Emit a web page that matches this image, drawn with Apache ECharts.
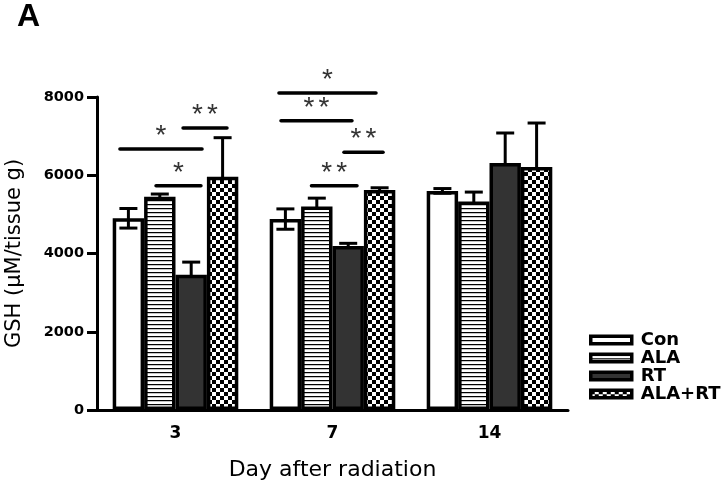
<!DOCTYPE html>
<html><head><meta charset="utf-8">
<script src="https://cdn.jsdelivr.net/npm/echarts@6/dist/echarts.min.js"></script>
<style>html,body{margin:0;padding:0;background:#fff}#c{width:722px;height:483px}</style>
</head><body><div id="c"></div>
<script>
// ---- data ----
const categories = ['3', '7', '14'];
const seriesNames = ['Con', 'ALA', 'RT', 'ALA+RT'];
const conVals = [4900, 4880, 5600];
const conErr = [250, 260, 60];
const alaVals = [5450, 5200, 5330];
const alaErr = [70, 215, 240];
const rtVals = [3460, 4190, 6310];
const rtErr = [320, 70, 770];
const alartVals = [5960, 5620, 6210];
const alartErr = [1000, 60, 1125];
const yTicks = [0, 2000, 4000, 6000, 8000];
// significance brackets: [x start, x end] in category units, y level, label
const sigX1 = [-0.354, 0.048, -0.124, 0.659, 0.672, 1.073, 0.866];
const sigX2 = [0.169, 0.328, 0.162, 1.277, 1.124, 1.322, 1.156];
const sigY = [6670, 7210, 5730, 8100, 7390, 6590, 5730];
const sigLabels = ['*', '**', '*', '*', '**', '**', '**'];

// ---- patterns ----
function stripePattern() {
  const c = document.createElement('canvas'); c.width = 4; c.height = 4;
  const g = c.getContext('2d');
  g.fillStyle = '#fff'; g.fillRect(0, 0, 4, 4);
  g.fillStyle = '#000'; g.fillRect(0, 0, 4, 1);
  g.fillStyle = '#888'; g.fillRect(0, 1, 4, 0.5);
  return { image: c, repeat: 'repeat' };
}
function checkerPattern() {
  const c = document.createElement('canvas'); c.width = 8; c.height = 8;
  const g = c.getContext('2d');
  g.fillStyle = '#fff'; g.fillRect(0, 0, 8, 8);
  g.fillStyle = '#000'; g.fillRect(0, 0, 4, 4); g.fillRect(4, 4, 4, 4);
  return { image: c, repeat: 'repeat' };
}
const fills = ['rgba(255,255,255,0)', stripePattern(), '#333333', checkerPattern()];
const valsList = [conVals, alaVals, rtVals, alartVals];
const errList = [conErr, alaErr, rtErr, alartErr];

const errData = [];
valsList.forEach((vals, s) => vals.forEach((v, i) => errData.push([i, v, errList[s][i], s])));
const sigData = sigY.map((y, i) => [sigX1[i], sigX2[i], y]);

const chart = echarts.init(document.getElementById('c'), null, { renderer: 'canvas' });
const FONT = 'DejaVu Sans';

const barSeries = seriesNames.map((name, s) => ({
  name: name, type: 'bar', data: valsList[s],
  xAxisIndex: 0, yAxisIndex: 0,
  barGap: '0%', barCategoryGap: '20%',
  itemStyle: { color: fills[s], borderColor: '#000', borderWidth: 3.5 },
  z: 2, silent: true
}));

const option = {
  animation: false,
  backgroundColor: '#fff',
  title: { text: 'A', left: 17, top: 1, padding: 0,
    textStyle: { fontFamily: 'Liberation Sans', fontWeight: 'bold', fontSize: 32, color: '#000' } },
  legend: {
    orient: 'vertical', left: 589, top: 331, padding: 0, itemGap: 0,
    itemWidth: 41, itemHeight: 7.5, icon: 'rect',
    itemStyle: { borderWidth: 3.5, borderColor: '#000' },
    textStyle: { fontFamily: FONT, fontWeight: 'bold', fontSize: 18, color: '#000', lineHeight: 17.7, padding: [0, 0, 0, 4] },
    data: seriesNames
  },
  grid: { left: 97, right: 154, top: 97, bottom: 73, containLabel: false, outerBoundsMode: 'none' },
  xAxis: [{
    type: 'category', data: categories,
    name: 'Day after radiation', nameLocation: 'middle', nameGap: 49,
    nameTextStyle: { fontFamily: FONT, fontSize: 22, color: '#000' },
    axisLine: { onZero: false, lineStyle: { color: '#000', width: 3 } },
    axisTick: { alignWithLabel: true, length: 8, lineStyle: { color: '#000', width: 3 } },
    axisLabel: { fontFamily: FONT, fontWeight: 'bold', fontSize: 17, color: '#000', margin: 15 },
    splitLine: { show: false }
  }, {
    type: 'value', min: -0.5, max: 2.5, show: false,
    axisLine: { onZero: false }
  }],
  yAxis: {
    type: 'value', min: yTicks[0], max: yTicks[yTicks.length - 1], interval: yTicks[1] - yTicks[0],
    name: 'GSH (μM/tissue g)', nameLocation: 'middle', nameGap: 72, nameRotate: 90,
    nameTextStyle: { fontFamily: FONT, fontSize: 21, color: '#000' },
    axisLine: { show: true, onZero: false, lineStyle: { color: '#000', width: 3 } },
    axisTick: { show: true, length: 10, lineStyle: { color: '#000', width: 3 } },
    axisLabel: { fontFamily: FONT, fontWeight: 'bold', fontSize: 14.5, color: '#000', margin: 13,
      formatter: function (v) { return String(v); } },
    splitLine: { show: false }
  },
  series: barSeries.concat([{
    type: 'custom', name: 'err', xAxisIndex: 0, yAxisIndex: 0, z: 1, silent: true, clip: false,
    data: errData, encode: { x: 0, y: 1 },
    renderItem: function (params, api) {
      const cat = api.value(0), v = api.value(1), e = api.value(2), s = api.value(3);
      const base = api.coord([cat, v]);
      const band = api.size([1, 0])[0];
      const bw = band * 0.8 / 4;
      const x = base[0] + (s - 1.5) * bw;
      const top = api.coord([cat, v + e])[1];
      const bot = api.coord([cat, v - e])[1];
      const cap = 9;
      const st = { stroke: '#000', lineWidth: 3 };
      return { type: 'group', children: [
        { type: 'line', shape: { x1: x, y1: top, x2: x, y2: bot }, style: st },
        { type: 'line', shape: { x1: x - cap, y1: top, x2: x + cap, y2: top }, style: st },
        { type: 'line', shape: { x1: x - cap, y1: bot, x2: x + cap, y2: bot }, style: st }
      ] };
    }
  }, {
    type: 'custom', name: 'sig', xAxisIndex: 1, yAxisIndex: 0, z: 5, silent: true, clip: false,
    data: sigData, encode: { x: [0, 1], y: 2 },
    renderItem: function (params, api) {
      const p1 = api.coord([api.value(0), api.value(2)]);
      const p2 = api.coord([api.value(1), api.value(2)]);
      const lab = sigLabels[params.dataIndex];
      const cx = (p1[0] + p2[0]) / 2;
      const children = [{ type: 'line', shape: { x1: p1[0], y1: p1[1], x2: p2[0], y2: p2[1] },
        style: { stroke: '#000', lineWidth: 3.5, lineCap: 'round' } }];
      const n = lab.length, gap = 15;
      for (let k = 0; k < n; k++) {
        children.push({ type: 'text', x: cx + (k - (n - 1) / 2) * gap, y: p1[1] - 13,
          style: { text: lab[k], fill: '#333', font: '28px "Liberation Sans"', align: 'center', verticalAlign: 'middle' } });
      }
      return { type: 'group', children: children };
    }
  }])
};
chart.setOption(option);
</script></body></html>
